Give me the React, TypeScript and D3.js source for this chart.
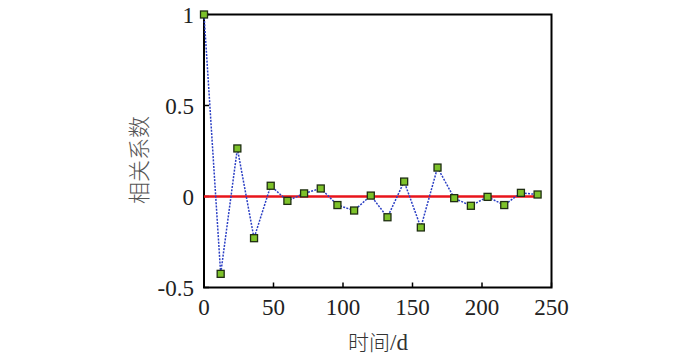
import React from "react";
import * as d3 from "d3";

const days: number[] = [0, 12, 24, 36, 48, 60, 72, 84, 96, 108, 120, 132, 144, 156, 168, 180, 192, 204, 216, 228, 240];
const corr: number[] = [1.0, -0.425, 0.264, -0.229, 0.059, -0.024, 0.017, 0.044, -0.047, -0.077, 0.005, -0.114, 0.082, -0.17, 0.159, -0.009, -0.051, -0.002, -0.047, 0.02, 0.011];
const xTicks: number[] = [0, 50, 100, 150, 200, 250];
const yTicks: number[] = [-0.5, 0, 0.5, 1];
const xLabel = "时间";
const xUnit = "/d";
const yLabel = "相关系数";

const W = 700, H = 360;
const L = 204, R = 551.5, T = 14.5, B = 287.5;

export default function App() {
  const x = d3.scaleLinear().domain([0, 250]).range([L, R]);
  const y = d3.scaleLinear().domain([-0.5, 1]).range([B, T]);
  const line = d3.line<number>().x((_, i) => x(days[i])).y((d) => y(d));
  const serif = "Liberation Serif";
  const cjk = "Noto Sans CJK SC";
  return (
    <svg width={W} height={H} style={{ position: "absolute", left: 0, top: 0, background: "#fff" }}>
      <rect x={L} y={T} width={R - L} height={B - T} fill="none" stroke="#000" strokeWidth={2} />
      {xTicks.map((t) => (
        <g key={"x" + t}>
          <line x1={x(t)} x2={x(t)} y1={B} y2={B - 5} stroke="#000" strokeWidth={1.5} />
          <text x={x(t)} y={B + 27} textAnchor="middle" style={{ fontFamily: serif, fontSize: 23 }} fill="#222">{t}</text>
        </g>
      ))}
      {yTicks.map((t) => (
        <g key={"y" + t}>
          <line x1={L} x2={L + 5} y1={y(t)} y2={y(t)} stroke="#000" strokeWidth={1.5} />
          <text x={L - 10} y={y(t) + 8} textAnchor="end" style={{ fontFamily: serif, fontSize: 23 }} fill="#222">{t}</text>
        </g>
      ))}
      <line x1={x(0)} x2={x(240)} y1={y(0)} y2={y(0)} stroke="#e8141b" strokeWidth={2.5} />
      <path d={line(corr) || ""} fill="none" stroke="#2b3fc4" strokeWidth={1.5} strokeDasharray="2,1.3" />
      {corr.map((v, i) => (
        <rect key={i} x={x(days[i]) - 3.5} y={y(v) - 3.5} width={7} height={7} fill="#7dc22a" stroke="#1f2e12" strokeWidth={1.3} />
      ))}
      <text transform={`translate(147,160) rotate(-90)`} textAnchor="middle" style={{ fontFamily: cjk, fontSize: 22, fontWeight: 300 }} fill="#555">{yLabel}</text>
      <text x={378} y={350} textAnchor="middle" fill="#333">
        <tspan style={{ fontFamily: cjk, fontSize: 21, fontWeight: 300 }}>{xLabel}</tspan>
        <tspan style={{ fontFamily: serif, fontSize: 23 }}>{xUnit}</tspan>
      </text>
    </svg>
  );
}
